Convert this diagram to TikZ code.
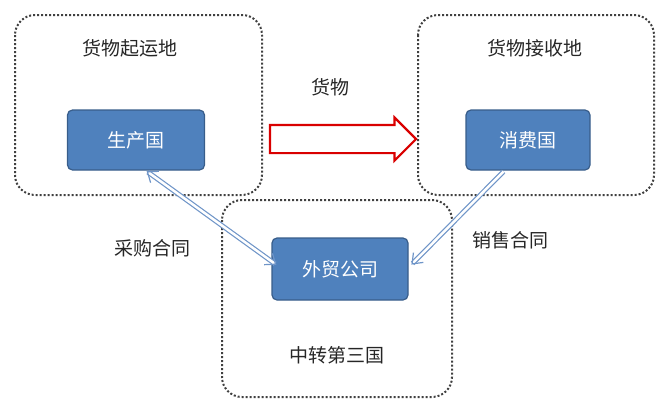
\documentclass[tikz,border=0pt]{standalone}
\usepackage{fontspec}
\setmainfont{Noto Sans CJK SC}
\usetikzlibrary{arrows.meta,shapes.arrows}
\definecolor{bfill}{HTML}{4F81BD}
\definecolor{bdraw}{HTML}{385D8A}
\definecolor{lnk}{HTML}{6F95C8}
\begin{document}
\begin{tikzpicture}[x=1pt,y=-1pt,
  region/.style={draw=black!75,dotted,line width=2pt,rounded corners=20pt},
  box/.style={draw=bdraw,fill=bfill,line width=1.2pt,rounded corners=5pt,text=white,font=\fontsize{19}{22}\selectfont,inner sep=0pt},
  lab/.style={font=\fontsize{19}{22}\selectfont,text=black!85},
  link/.style={double=white,draw=lnk,double distance=2.5pt,line width=1.2pt,shorten <=2pt,shorten >=2pt}]
\useasboundingbox (0,0) rectangle (669,416);
\draw[region] (15,15) rectangle (262,195);
\draw[region] (418,15) rectangle (654,195);
\draw[region] (222,200) rectangle (452,397);
\node[box,minimum width=137pt,minimum height=60pt] (p) at (136,140) {生产国};
\node[box,minimum width=124pt,minimum height=60pt] (c) at (528,140) {消费国};
\node[box,minimum width=136pt,minimum height=62pt] (t) at (340,269) {外贸公司};
\node[lab] (l1) at (130,48) {货物起运地};
\node[lab] (l2) at (535,48) {货物接收地};
\node[lab] (l3) at (330,87) {货物};
\node[lab] (l4) at (152,248) {采购合同};
\node[lab] (l5) at (510,240) {销售合同};
\node[lab] (l6) at (337,355) {中转第三国};
\node[single arrow,draw=red!85!black,fill=white,line width=2.2pt,minimum height=146pt,minimum width=42pt,single arrow head extend=7.5pt,single arrow tip angle=90,inner sep=13pt] (ar) at (336,139) {};
\coordinate (pa) at (145,170);
\coordinate (ta) at (278,266);
\coordinate (ca) at (505,170);
\coordinate (tb) at (410,266);
\draw[link,{Straight Barb[length=9pt,width=14pt]}-{Straight Barb[length=9pt,width=14pt]}] (pa) -- (ta);
\draw[link,-{Straight Barb[length=9pt,width=14pt]}] (ca) -- (tb);
\end{tikzpicture}
\end{document}
